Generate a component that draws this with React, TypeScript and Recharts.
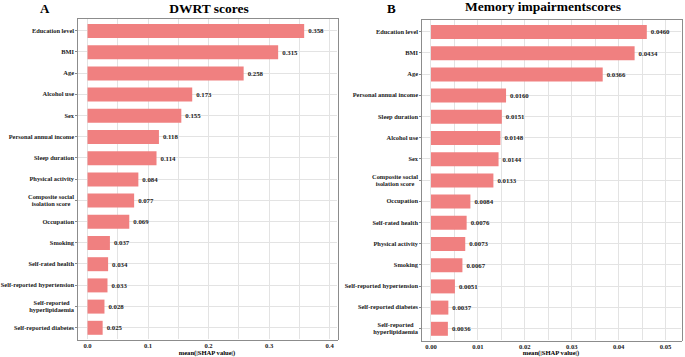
import React from "react";
import { BarChart, Bar, XAxis, YAxis, LabelList } from "recharts";

// SHAP importance, DWRT model
const dwrtFeatures = [
  "Education level",
  "BMI",
  "Age",
  "Alcohol use",
  "Sex",
  "Personal annual income",
  "Sleep duration",
  "Physical activity",
  "Composite social\nisolation score",
  "Occupation",
  "Smoking",
  "Self-rated health",
  "Self-reported hypertension",
  "Self-reported\nhyperlipidaemia",
  "Self-reported diabetes",
];
const dwrtValues = [
  0.358, 0.315, 0.258, 0.173, 0.155, 0.118, 0.114, 0.084, 0.077, 0.069, 0.037,
  0.034, 0.033, 0.028, 0.025,
];
const dwrtTicks = [0, 0.05, 0.1, 0.15, 0.2, 0.25, 0.3, 0.35, 0.4];

// SHAP importance, memory impairment model
const memFeatures = [
  "Education level",
  "BMI",
  "Age",
  "Personal annual income",
  "Sleep duration",
  "Alcohol use",
  "Sex",
  "Composite social\nisolation score",
  "Occupation",
  "Self-rated health",
  "Physical activity",
  "Smoking",
  "Self-reported hypertension",
  "Self-reported diabetes",
  "Self-reported\nhyperlipidaemia",
];
const memValues = [
  0.046, 0.0434, 0.0366, 0.016, 0.0151, 0.0148, 0.0144, 0.0133, 0.0084,
  0.0076, 0.0073, 0.0067, 0.0051, 0.0037, 0.0036,
];
const memTicks = [
  0, 0.005, 0.01, 0.015, 0.02, 0.025, 0.03, 0.035, 0.04, 0.045, 0.05,
];

const FONT = "'Liberation Serif', 'Times New Roman', serif";
const BAR_FILL = "#F08080";
const GRID = "#e3e3e3";
const BORDER = "#8c8c8c";
const LABEL_SIZE = 6.4;

const W = 340;
const H = 357;
const AXIS_W = 77;
const RIGHT = 2;

let measureCtx: CanvasRenderingContext2D | null = null;
function textWidth(s: string, size: number) {
  if (!measureCtx) measureCtx = document.createElement("canvas").getContext("2d");
  if (!measureCtx) return s.length * size * 0.5;
  measureCtx.font = `bold ${size}px ${FONT}`;
  return measureCtx.measureText(s).width;
}

const FeatureTick = ({ x, y, payload }: any) => {
  const lines = String(payload.value).split("\n");
  const tx = x - 1;
  if (lines.length === 1) {
    return (
      <text x={tx} y={y} dy="0.35em" textAnchor="end" fontSize={LABEL_SIZE}
        fontWeight="bold" fontFamily={FONT} fill="#1a1a1a">
        {lines[0]}
      </text>
    );
  }
  // multi-line labels are centred on each other, block right-aligned
  const w = Math.max(...lines.map((l) => textWidth(l, LABEL_SIZE)));
  const cx = tx - w / 2;
  const lh = 7.4;
  const top = y - ((lines.length - 1) * lh) / 2;
  return (
    <text textAnchor="middle" fontSize={LABEL_SIZE} fontWeight="bold"
      fontFamily={FONT} fill="#1a1a1a">
      {lines.map((l, i) => (
        <tspan key={i} x={cx} y={top + i * lh} dy="0.35em">
          {l}
        </tspan>
      ))}
    </text>
  );
};

// vertical grid line per x tick; the two domain ends become the panel frame
const VGridTick = ({ x, payload, top, bottom, edges }: any) => {
  const v = payload.value;
  const left = AXIS_W;
  const right = W - RIGHT;
  if (v === edges[0] || v === edges[1]) {
    return (
      <g>
        {v === edges[0] && (
          <>
            <line x1={left} x2={right} y1={top} y2={top} stroke={BORDER}
              strokeWidth={1} shapeRendering="crispEdges" />
            <line x1={left} x2={right} y1={bottom} y2={bottom} stroke={BORDER}
              strokeWidth={1} shapeRendering="crispEdges" />
          </>
        )}
        <line x1={x} x2={x} y1={top} y2={bottom} stroke={BORDER}
          strokeWidth={1} shapeRendering="crispEdges" />
      </g>
    );
  }
  return (
    <line x1={x} x2={x} y1={top + 1} y2={bottom - 1} stroke={GRID}
      strokeWidth={1} shapeRendering="crispEdges" />
  );
};

// horizontal grid line through each category
const HGridTick = ({ y }: any) => (
  <line x1={AXIS_W + 1} x2={W - RIGHT - 1} y1={y} y2={y} stroke={GRID}
    strokeWidth={1} shapeRendering="crispEdges" />
);

interface PanelProps {
  features: string[];
  values: number[];
  ticks: number[];
  domain: [number, number];
  digits: number;
  tickDigits: number;
  major: number;
  top: number;
  bottom: number;
}

// same axes as the bar chart, but its ticks draw the grid; sits under the bars
function PanelGrid({ p, data }: { p: PanelProps; data: any[] }) {
  return (
    <BarChart
      width={W}
      height={H}
      data={data}
      layout="vertical"
      margin={{ top: p.top, right: RIGHT, bottom: 0, left: 0 }}
    >
      <XAxis
        type="number"
        domain={p.domain}
        ticks={[p.domain[0], ...p.ticks, p.domain[1]]}
        height={H - p.bottom}
        interval={0}
        axisLine={false}
        tickLine={false}
        tick={<VGridTick top={p.top} bottom={p.bottom} edges={p.domain} />}
      />
      <YAxis
        type="category"
        dataKey="name"
        width={AXIS_W}
        interval={0}
        padding={{ top: 2, bottom: 2 }}
        axisLine={false}
        tickLine={false}
        tick={<HGridTick />}
      />
      <Bar dataKey="value" fill="none" barSize={14} isAnimationActive={false} />
    </BarChart>
  );
}

function ShapPanel(p: PanelProps) {
  const data = p.features.map((name, i) => ({ name, value: p.values[i] }));
  const isMajor = (v: number) =>
    Math.abs(v / p.major - Math.round(v / p.major)) < 1e-6;
  return (
    <div style={{ position: "relative", width: W, height: H }}>
      <div style={{ position: "absolute", left: 0, top: 0 }}>
        <PanelGrid p={p} data={data} />
      </div>
      <div style={{ position: "absolute", left: 0, top: 0 }}>
        <BarChart
          width={W}
          height={H}
          data={data}
          layout="vertical"
          margin={{ top: p.top, right: RIGHT, bottom: 0, left: 0 }}
        >
          <XAxis
            type="number"
            domain={p.domain}
            ticks={p.ticks}
            height={H - p.bottom}
            interval={0}
            tickSize={2}
            tickMargin={1}
            axisLine={false}
            tickLine={false}
            tickFormatter={(v: number) => (isMajor(v) ? v.toFixed(p.tickDigits) : "")}
            tick={{ fontSize: 6.6, fontWeight: "bold", fontFamily: FONT, fill: "#1a1a1a" }}
          />
          <YAxis
            type="category"
            dataKey="name"
            width={AXIS_W}
            interval={0}
            tickSize={2}
            tickMargin={0}
            axisLine={false}
            tickLine={{ stroke: "#888", shapeRendering: "crispEdges" }}
            padding={{ top: 2, bottom: 2 }}
            tick={<FeatureTick />}
          />
          <Bar dataKey="value" fill={BAR_FILL} barSize={14} isAnimationActive={false}>
            <LabelList
              dataKey="value"
              position="right"
              offset={4}
              formatter={(v: any) => Number(v).toFixed(p.digits)}
              style={{ fontSize: 6.8, fontWeight: "bold", fontFamily: FONT, fill: "#1a1a1a" }}
            />
          </Bar>
        </BarChart>
      </div>
    </div>
  );
}

export default function App() {
  const txt = { fontFamily: FONT, fontWeight: "bold" as const, fill: "#000" };
  return (
    <div style={{ position: "absolute", left: 0, top: 0, width: 685, height: 357 }}>
      <div style={{ position: "absolute", left: 0, top: 0 }}>
        <ShapPanel
          features={dwrtFeatures}
          values={dwrtValues}
          ticks={dwrtTicks}
          domain={[-0.0174, 0.4139]}
          digits={3}
          tickDigits={1}
          major={0.1}
          top={18}
          bottom={340}
        />
      </div>
      <div style={{ position: "absolute", left: 344, top: 0 }}>
        <ShapPanel
          features={memFeatures}
          values={memValues}
          ticks={memTicks}
          domain={[-0.00213, 0.0535]}
          digits={4}
          tickDigits={2}
          major={0.01}
          top={19}
          bottom={341}
        />
      </div>
      <svg
        width={685}
        height={357}
        style={{ position: "absolute", left: 0, top: 0, pointerEvents: "none" }}
      >
        <text x={40} y={12.7} fontSize={13} {...txt}>A</text>
        <text x={209} y={12.7} fontSize={13.5} textAnchor="middle" {...txt}>
          DWRT scores
        </text>
        <text x={387} y={12.7} fontSize={13} {...txt}>B</text>
        <text x={543} y={11} fontSize={13.5} textAnchor="middle" {...txt}>
          Memory impairmentscores
        </text>
        <text x={207} y={355} fontSize={6.6} textAnchor="middle" {...txt}>
          mean(|SHAP value|)
        </text>
        <text x={551} y={355} fontSize={6.6} textAnchor="middle" {...txt}>
          mean(|SHAP value|)
        </text>
      </svg>
    </div>
  );
}
